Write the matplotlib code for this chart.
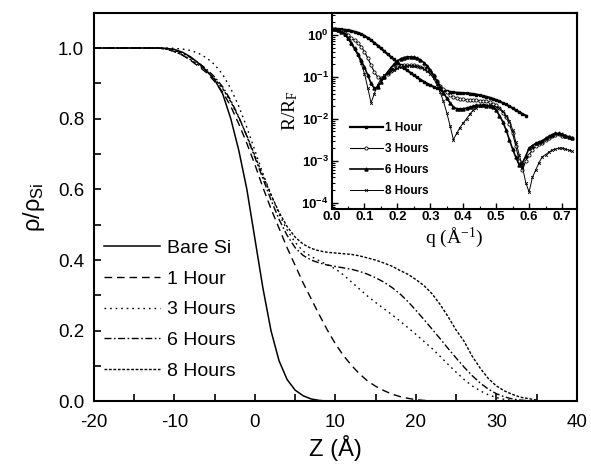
import numpy as np
import matplotlib.pyplot as plt
from matplotlib.ticker import MultipleLocator, LogLocator, NullFormatter

plt.rcParams['font.family'] = ['Liberation Sans', 'DejaVu Sans']
plt.rcParams['mathtext.fontset'] = 'custom'
plt.rcParams['mathtext.rm'] = 'Liberation Sans'
plt.rcParams['mathtext.default'] = 'regular'
plt.rcParams['axes.unicode_minus'] = False

# density profiles, Z in Angstrom
z = np.array([-20, -16, -13] + list(range(-12, 36)))

bare_si = [1.0, 1.0, 1.0,
           1.0, 0.999, 0.996, 0.988, 0.975, 0.957, 0.935, 0.91, 0.87, 0.80,
           0.71, 0.60, 0.46, 0.32, 0.20, 0.115, 0.062, 0.032, 0.016, 0.007,
           0.003, 0.001, 0.0003, 0, 0, 0, 0, 0, 0, 0, 0, 0, 0, 0, 0, 0, 0,
           0, 0, 0, 0, 0, 0, 0, 0, 0, 0, 0]
hour1 = [1.0, 1.0, 1.0,
         1.0, 0.997, 0.99, 0.98, 0.965, 0.948, 0.93, 0.905, 0.875, 0.835,
         0.785, 0.73, 0.67, 0.605, 0.545, 0.49, 0.435, 0.385, 0.335, 0.29,
         0.245, 0.202, 0.163, 0.13, 0.102, 0.078, 0.058, 0.043, 0.031, 0.021,
         0.014, 0.009, 0.005, 0.003, 0.0015, 0.0007, 0.0003, 0, 0, 0, 0, 0,
         0, 0, 0, 0, 0, 0]
hour3 = [1.0, 1.0, 1.0,
         1.0, 1.0, 0.999, 0.997, 0.993, 0.985, 0.972, 0.953, 0.925, 0.885,
         0.835, 0.775, 0.71, 0.645, 0.585, 0.53, 0.485, 0.45, 0.425, 0.41,
         0.398, 0.387, 0.375, 0.358, 0.338, 0.318, 0.298, 0.28, 0.263, 0.246,
         0.228, 0.209, 0.19, 0.17, 0.15, 0.128, 0.105, 0.083, 0.062, 0.044,
         0.03, 0.019, 0.011, 0.006, 0.003, 0.001, 0.0003, 0]
hour6 = [1.0, 1.0, 1.0,
         1.0, 0.998, 0.993, 0.985, 0.973, 0.958, 0.94, 0.918, 0.89, 0.852,
         0.805, 0.75, 0.69, 0.63, 0.57, 0.515, 0.47, 0.435, 0.413, 0.4,
         0.392, 0.386, 0.382, 0.378, 0.374, 0.368, 0.36, 0.35, 0.338, 0.323,
         0.305, 0.283, 0.258, 0.232, 0.205, 0.178, 0.15, 0.123, 0.097, 0.073,
         0.052, 0.035, 0.022, 0.013, 0.007, 0.004, 0.002, 0]
hour8 = [1.0, 1.0, 1.0,
         1.0, 0.997, 0.99, 0.98, 0.967, 0.952, 0.935, 0.913, 0.885, 0.848,
         0.803, 0.752, 0.695, 0.638, 0.585, 0.535, 0.495, 0.465, 0.445, 0.433,
         0.426, 0.422, 0.42, 0.418, 0.416, 0.412, 0.406, 0.4, 0.392, 0.383,
         0.371, 0.36, 0.345, 0.328, 0.305, 0.275, 0.24, 0.202, 0.17, 0.128,
         0.094, 0.065, 0.044, 0.03, 0.02, 0.012, 0.008, 0.004]

# reflectivity R/R_F vs q (1/Angstrom)
q = np.round(np.arange(0, 0.735, 0.01), 2)
r_1h = [1.40, 1.39, 1.38, 1.36, 1.33, 1.29, 1.25, 1.19, 1.13, 1.05,
        0.95, 0.85, 0.75, 0.65, 0.56, 0.48, 0.41, 0.35, 0.30, 0.26,
        0.22, 0.19, 0.165, 0.143, 0.125, 0.11, 0.097, 0.086, 0.077, 0.069,
        0.063, 0.058, 0.054, 0.051, 0.048, 0.046, 0.044, 0.043, 0.042, 0.0415,
        0.041, 0.0405, 0.040, 0.039, 0.038, 0.0365, 0.035, 0.0335, 0.032, 0.030,
        0.028, 0.026, 0.024, 0.022, 0.020, 0.018, 0.016, 0.0145, 0.013, 0.012]
r_3h = [1.40, 1.38, 1.33, 1.25, 1.12, 0.98, 0.85, 0.74, 0.64, 0.53,
        0.40, 0.28, 0.19, 0.13, 0.10, 0.092, 0.10, 0.12, 0.14, 0.158,
        0.172, 0.182, 0.188, 0.19, 0.19, 0.188, 0.183, 0.175, 0.165, 0.15,
        0.13, 0.105, 0.08, 0.062, 0.051, 0.043, 0.037, 0.033, 0.031, 0.030,
        0.029, 0.0285, 0.028, 0.028, 0.0275, 0.027, 0.0265, 0.026, 0.025, 0.023,
        0.021, 0.018, 0.014, 0.011, 0.0075, 0.0045, 0.0022, 0.0010, 0.0006, 0.0010,
        0.0014, 0.0018, 0.0022, 0.0025, 0.0027, 0.0031, 0.0035, 0.0039, 0.0042, 0.0043,
        0.0040, 0.0038, 0.0036, 0.0034]
r_6h = [1.40, 1.38, 1.32, 1.20, 1.05, 0.85, 0.65, 0.48, 0.35, 0.25,
        0.17, 0.11, 0.070, 0.053, 0.058, 0.075, 0.10, 0.13, 0.165, 0.20,
        0.24, 0.27, 0.29, 0.30, 0.30, 0.295, 0.28, 0.255, 0.22, 0.185,
        0.145, 0.11, 0.08, 0.058, 0.042, 0.031, 0.024, 0.019, 0.0175, 0.0172,
        0.0175, 0.018, 0.019, 0.020, 0.021, 0.021, 0.021, 0.0205, 0.020, 0.019,
        0.016, 0.012, 0.0085, 0.0055, 0.0032, 0.0019, 0.0012, 0.0008, 0.0009, 0.0013,
        0.0020, 0.0023, 0.0026, 0.0028, 0.0030, 0.0034, 0.0038, 0.0042, 0.0045, 0.0045,
        0.0043, 0.0040, 0.0037, 0.0034]
r_8h = [1.40, 1.38, 1.30, 1.18, 1.00, 0.80, 0.60, 0.45, 0.33, 0.21,
        0.12, 0.055, 0.024, 0.04, 0.065, 0.09, 0.11, 0.125, 0.138, 0.15,
        0.16, 0.17, 0.178, 0.183, 0.185, 0.183, 0.178, 0.168, 0.155, 0.138,
        0.118, 0.092, 0.066, 0.043, 0.026, 0.014, 0.0068, 0.0032, 0.0045, 0.0062,
        0.0080, 0.010, 0.013, 0.016, 0.018, 0.020, 0.021, 0.021, 0.021, 0.020,
        0.019, 0.018, 0.015, 0.012, 0.009, 0.0055, 0.0028, 0.0014, 0.0007, 0.0003,
        0.00018, 0.0004, 0.0006, 0.0009, 0.00125, 0.0014, 0.0016, 0.0018, 0.0019, 0.002,
        0.002, 0.0019, 0.0018, 0.0017]

fig = plt.figure(figsize=(5.91, 4.69), dpi=100)
ax = fig.add_axes([0.159, 0.144, 0.817, 0.829])

ax.plot(z, bare_si, 'k-', lw=1.1, label='Bare Si')
ax.plot(z, hour1, color='k', lw=1.0, ls=(0, (5.5, 3.5)), label='1 Hour')
ax.plot(z, hour3, color='k', lw=1.0, ls=(0, (1.2, 2.8)), label='3 Hours')
ax.plot(z, hour6, color='k', lw=1.0, ls=(0, (5, 1.8, 1.2, 1.8)), label='6 Hours')
ax.plot(z, hour8, color='k', lw=1.0, ls=(0, (2, 1.2)), label='8 Hours')

ax.set_xlim(-20, 40)
ax.set_ylim(0, 1.1)
ax.xaxis.set_major_locator(MultipleLocator(10))
ax.xaxis.set_minor_locator(MultipleLocator(5))
ax.yaxis.set_major_locator(MultipleLocator(0.2))
ax.yaxis.set_minor_locator(MultipleLocator(0.1))
ax.yaxis.set_major_formatter(plt.FormatStrFormatter('%.1f'))
ax.tick_params(which='both', direction='in', length=5, width=1.2,
               top=False, right=False, labelsize=13.5)
ax.tick_params(axis='x', pad=9)
ax.tick_params(axis='y', pad=7)
for s in ax.spines.values():
    s.set_linewidth(1.5)
ax.set_xlabel('Z (Å)', fontsize=17, labelpad=3)
ax.set_ylabel(r'ρ/ρ$_{Si}$', fontsize=17, labelpad=8)

ax.legend(loc='lower left', bbox_to_anchor=(0.02, 0.055), frameon=False,
          fontsize=14, handlelength=2.9, handletextpad=0.35,
          labelspacing=0.68, borderpad=0, borderaxespad=0)

# inset
ins = fig.add_axes([0.561, 0.555, 0.415, 0.418])
ins.plot(q[:len(r_1h)], r_1h, 'k-', lw=1.6, marker='s', ms=2.0, label='1 Hour')
ins.plot(q, r_3h, 'k-', lw=0.8, marker='o', ms=2.3, mfc='white', mew=0.6,
         label='3 Hours')
ins.plot(q, r_6h, 'k-', lw=1.2, marker='^', ms=2.2, label='6 Hours')
ins.plot(q, r_8h, 'k-', lw=0.7, marker='x', ms=2.0, mew=0.6, label='8 Hours')

ins.set_yscale('log')
ins.set_xlim(0, 0.745)
ins.set_ylim(7.2e-5, 3.4)
ins.xaxis.set_major_locator(MultipleLocator(0.1))
ins.xaxis.set_minor_locator(MultipleLocator(0.05))
ins.xaxis.set_major_formatter(plt.FormatStrFormatter('%.1f'))
ins.yaxis.set_major_locator(LogLocator(base=10, numticks=10))
ins.yaxis.set_minor_locator(LogLocator(base=10, subs=np.arange(2, 10), numticks=10))
ins.yaxis.set_minor_formatter(NullFormatter())
ins.tick_params(which='major', direction='in', length=4, width=1.0,
                top=False, right=False, labelsize=9.5, pad=2)
ins.tick_params(which='minor', direction='in', length=2, width=0.8,
                top=False, right=False)
for lab in ins.get_xticklabels() + ins.get_yticklabels():
    lab.set_fontweight('bold')
for s in ins.spines.values():
    s.set_linewidth(1.5)
ins.set_xlabel(r'q (Å$^{\mathregular{-1}}$)', fontsize=14,
               family='Liberation Serif', labelpad=1)
ins.set_ylabel(r'R/R$_{\mathregular{F}}$', fontsize=14,
               family='Liberation Serif', labelpad=1)

ins.legend(loc='lower left', bbox_to_anchor=(0.075, 0.06), frameon=False,
           handlelength=2.8, handletextpad=0.2,
           labelspacing=0.75, numpoints=1, borderpad=0, borderaxespad=0,
           prop={'weight': 'bold', 'size': 8.5})

fig.savefig('out.png', dpi=100)
